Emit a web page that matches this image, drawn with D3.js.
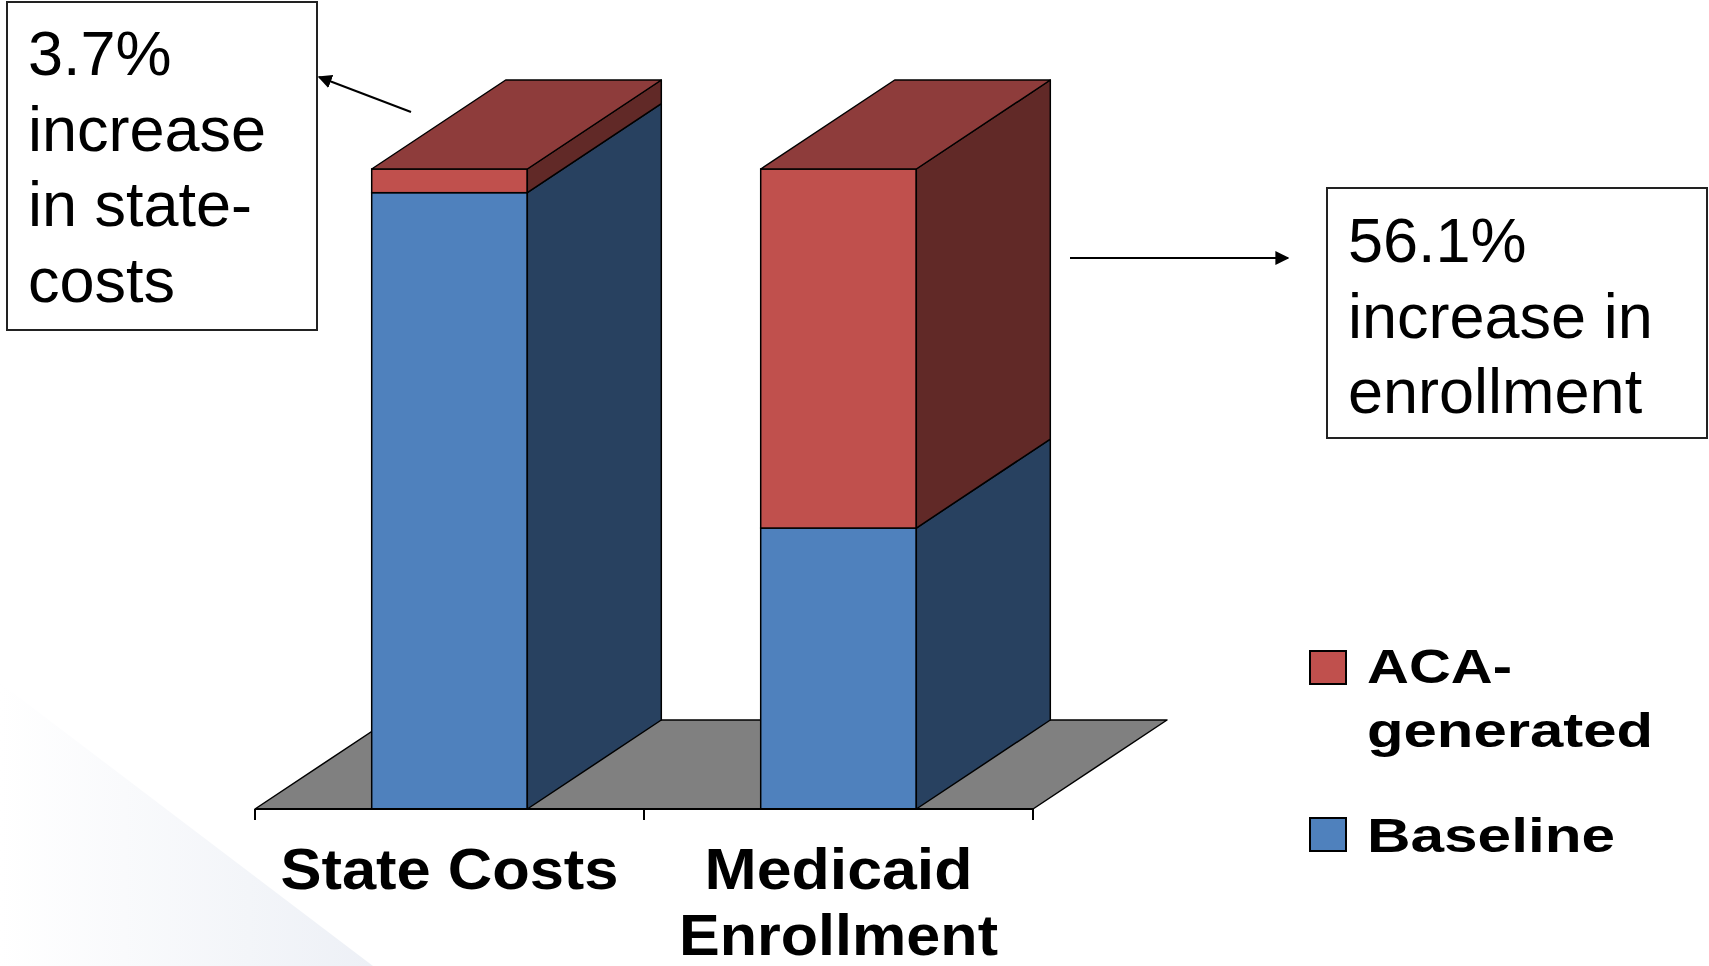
<!DOCTYPE html>
<html>
<head>
<meta charset="utf-8">
<script src="https://cdn.jsdelivr.net/npm/d3@7/dist/d3.min.js"></script>
<style>
  html, body { margin: 0; padding: 0; background: #ffffff; overflow: hidden; }
  svg { display: block; }
</style>
</head>
<body>
<script>
// ---- data ----
const categories = ["State Costs", "Medicaid Enrollment"];
const categoryLines = [["State Costs"], ["Medicaid", "Enrollment"]];
const baselineValues = [96.3, 43.9];
const acaValues = [3.7, 56.1];
const seriesNames = ["ACA-generated", "Baseline"];
const legendLines = [["ACA-", "generated"], ["Baseline"]];
const leftNote = ["3.7%", "increase", "in state-", "costs"];
const rightNote = ["56.1%", "increase in", "enrollment"];

// ---- layout ----
const W = 1709, H = 966;
const svg = d3.select("body").append("svg").attr("width", W).attr("height", H);

// background decoration
const defs = svg.append("defs");
const grad = defs.append("linearGradient").attr("id", "bgGrad")
  .attr("x1", "0").attr("y1", "0").attr("x2", "1").attr("y2", "0");
grad.append("stop").attr("offset", "0%").attr("stop-color", "#ffffff");
grad.append("stop").attr("offset", "100%").attr("stop-color", "#edf0f6");
svg.append("path").attr("d", "M0,683 L373,966 L0,966 Z").attr("fill", "url(#bgGrad)");

defs.append("marker").attr("id", "arrowHead")
  .attr("viewBox", "0 0 10 10").attr("refX", 9).attr("refY", 5)
  .attr("markerWidth", 7).attr("markerHeight", 7).attr("orient", "auto")
  .append("path").attr("d", "M0,0 L10,5 L0,10 Z").attr("fill", "#000");

const x = d3.scaleBand().domain(categories).range([255, 1033]).padding(0);
const y = d3.scaleLinear().domain([0, 100]).range([809, 169]);
const barW = x.bandwidth() * 0.4;
const dx = 134, dy = 89;

const colors = {
  aca:  { front: "#c0504d", side: "#612927", top: "#8e3c3b" },
  base: { front: "#4f81bd", side: "#284160", top: "#3d6592" }
};

// floor
const g = svg.append("g");
const x0 = x.range()[0], x1 = x.range()[1], yb = y(0);
g.append("path")
  .attr("d", `M${x0},${yb} L${x1},${yb} L${x1 + dx},${yb - dy} L${x0 + dx},${yb - dy} Z`)
  .attr("fill", "#808080").attr("stroke", "#000").attr("stroke-width", 1.5).attr("stroke-linejoin", "round");

// bars
categories.forEach((c, i) => {
  const cx = x(c) + x.bandwidth() / 2;
  const l = cx - barW / 2, r = cx + barW / 2;
  const segs = [
    { v0: 0, v1: baselineValues[i], col: colors.base },
    { v0: baselineValues[i], v1: baselineValues[i] + acaValues[i], col: colors.aca }
  ];
  segs.forEach(s => {
    const yt = y(s.v1), ybot = y(s.v0);
    g.append("rect").attr("x", l).attr("y", yt).attr("width", r - l).attr("height", ybot - yt)
      .attr("fill", s.col.front).attr("stroke", "#000").attr("stroke-width", 1.5);
    g.append("path")
      .attr("d", `M${r},${ybot} L${r + dx},${ybot - dy} L${r + dx},${yt - dy} L${r},${yt} Z`)
      .attr("fill", s.col.side).attr("stroke", "#000").attr("stroke-width", 1.5).attr("stroke-linejoin", "round");
  });
  const top = segs[1];
  const yt = y(top.v1);
  g.append("path")
    .attr("d", `M${l},${yt} L${r},${yt} L${r + dx},${yt - dy} L${l + dx},${yt - dy} Z`)
    .attr("fill", top.col.top).attr("stroke", "#000").attr("stroke-width", 1.5).attr("stroke-linejoin", "round");
});

// axis line and ticks
g.append("line").attr("x1", x0).attr("x2", x1).attr("y1", yb).attr("y2", yb)
  .attr("stroke", "#000").attr("stroke-width", 2);
const tickXs = categories.map(c => x(c)).concat([x(categories[categories.length - 1]) + x.step()]);
g.selectAll("line.tick").data(tickXs).enter().append("line").attr("class", "tick")
  .attr("x1", d => d).attr("x2", d => d).attr("y1", yb).attr("y2", yb + 11)
  .attr("stroke", "#000").attr("stroke-width", 2);

// category labels
const catLens = [[338], [268, 319]];
const catBase = [889, 955];
categoryLines.forEach((lines, i) => {
  const cx = x(categories[i]) + x.bandwidth() / 2;
  lines.forEach((t, j) => {
    svg.append("text").attr("x", cx).attr("y", catBase[j])
      .attr("text-anchor", "middle")
      .attr("font-family", "Liberation Sans, Arial, sans-serif")
      .attr("font-weight", "bold").attr("font-size", 57)
      .attr("textLength", catLens[i][j]).attr("lengthAdjust", "spacingAndGlyphs")
      .text(t);
  });
});

// legend
const legendColors = [colors.aca.front, colors.base.front];
const legY = [651, 818];
const legTextBase = [[683, 747], [852]];
const legLens = [[145, 286], [248]];
seriesNames.forEach((s, i) => {
  svg.append("rect").attr("x", 1310).attr("y", legY[i]).attr("width", 36).attr("height", 33)
    .attr("fill", legendColors[i]).attr("stroke", "#000").attr("stroke-width", 2);
  legendLines[i].forEach((t, j) => {
    svg.append("text").attr("x", 1367).attr("y", legTextBase[i][j])
      .attr("font-family", "Liberation Sans, Arial, sans-serif")
      .attr("font-weight", "bold").attr("font-size", 48)
      .attr("textLength", legLens[i][j]).attr("lengthAdjust", "spacingAndGlyphs")
      .text(t);
  });
});

// annotation boxes
function noteBox(bx, by, bw, bh, lines, firstBase) {
  svg.append("rect").attr("x", bx).attr("y", by).attr("width", bw).attr("height", bh)
    .attr("fill", "#fff").attr("stroke", "#222").attr("stroke-width", 2);
  lines.forEach((t, j) => {
    svg.append("text").attr("x", bx + 21).attr("y", firstBase + j * 75.7)
      .attr("font-family", "Liberation Sans, Arial, sans-serif")
      .attr("font-size", 63).attr("fill", "#000")
      .text(t);
  });
}
noteBox(7, 2, 310, 328, leftNote, 75);
noteBox(1327, 188, 380, 250, rightNote, 262);

// arrows
svg.append("line").attr("x1", 411).attr("y1", 112).attr("x2", 319).attr("y2", 77)
  .attr("stroke", "#000").attr("stroke-width", 2).attr("marker-end", "url(#arrowHead)");
svg.append("line").attr("x1", 1070).attr("y1", 258).attr("x2", 1288).attr("y2", 258)
  .attr("stroke", "#000").attr("stroke-width", 2).attr("marker-end", "url(#arrowHead)");
</script>
</body>
</html>
